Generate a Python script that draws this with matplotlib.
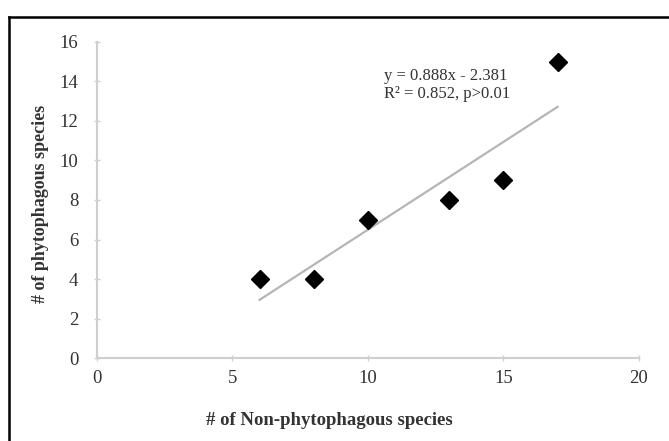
import matplotlib

matplotlib.use("Agg")
import matplotlib.pyplot as plt
from matplotlib.lines import Line2D

# data
non_phyto = [6, 8, 10, 13, 15, 17]
phyto = [4, 4, 7, 8, 9, 15]
slope, intercept = 0.888, -2.381
fit_x = [min(non_phyto), max(non_phyto)]
x_ticks = [0, 5, 10, 15, 20]
y_ticks = [0, 2, 4, 6, 8, 10, 12, 14, 16]

plt.rcParams["font.family"] = ["Liberation Serif", "DejaVu Serif"]

fig = plt.figure(figsize=(6.69, 4.41), dpi=100)
ax = fig.add_axes([0.145, 0.188, 0.81, 0.717])

ax.plot(fit_x, [slope * x + intercept for x in fit_x], c="#b5b5b5", lw=1.6, zorder=2)
ax.plot(non_phyto, phyto, "D", c="black", ms=9.5, zorder=3)

ax.set_xlim(0, 20)
ax.set_ylim(0, 16)
ax.set_xticks(x_ticks)
ax.set_yticks(y_ticks)

for s in ["top", "right"]:
    ax.spines[s].set_visible(False)
for s in ["left", "bottom"]:
    ax.spines[s].set_color("#cfcfcf")
    ax.spines[s].set_linewidth(1.5)
ax.tick_params(direction="inout", length=5, width=1, color="#cfcfcf",
               labelsize=13.5, labelcolor="#333333")
ax.tick_params(axis="y", pad=11)
ax.tick_params(axis="x", pad=6)

# regression equation
ax.text(0.53, 0.81, f"y = {slope}x - {abs(intercept)}\nR\u00b2 = 0.852, p>0.01",
        transform=ax.transAxes, fontsize=12, color="#333333",
        va="bottom", ha="left", linespacing=1.15)

fig.text(0.06, 0.537, "# of phytophagous species", rotation=90, fontsize=13,
         fontweight="bold", color="#333333", ha="center", va="center")
fig.text(0.493, 0.047, "# of Non-phytophagous species", fontsize=13.5,
         fontweight="bold", color="#333333", ha="center", va="center")

# outer frame (top and left edges visible in the crop)
fig.add_artist(Line2D([0.0135, 0.0135], [0, 0.962], transform=fig.transFigure,
                      c="black", lw=1.8))
fig.add_artist(Line2D([0.0135, 1], [0.962, 0.962], transform=fig.transFigure,
                      c="black", lw=1.8))

fig.savefig("out.png", dpi=100)
